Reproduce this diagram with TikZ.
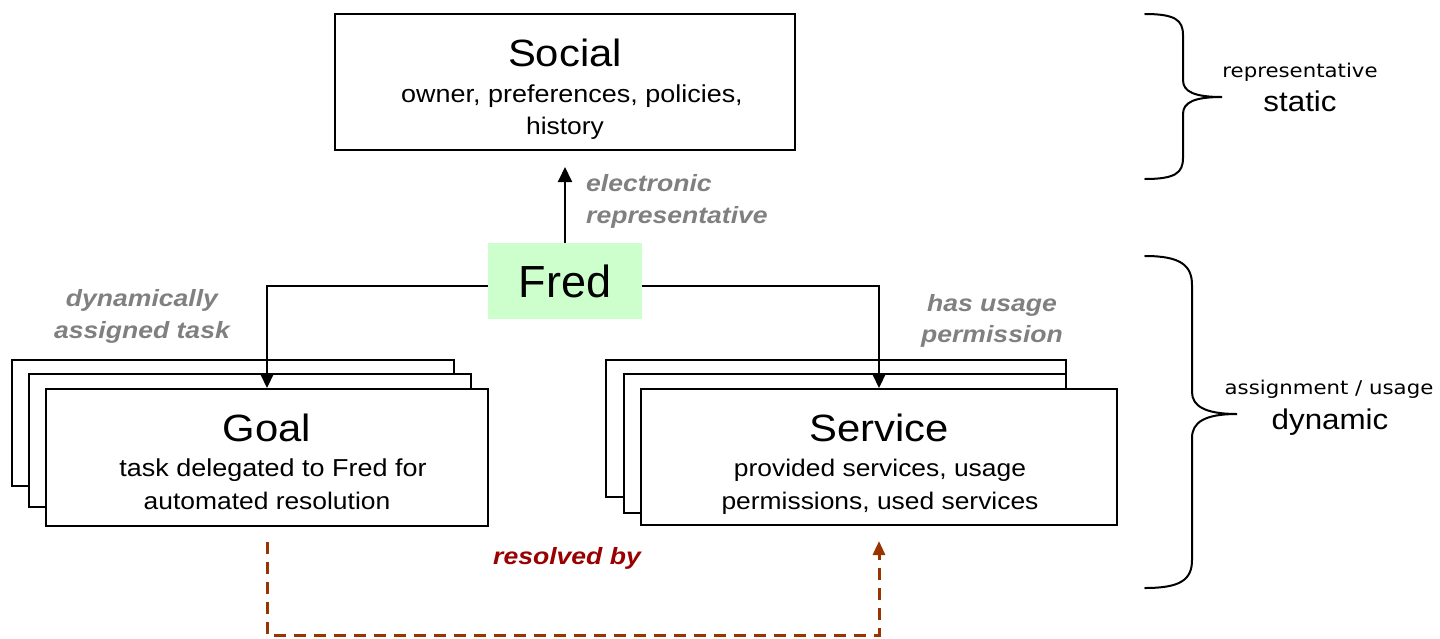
\documentclass[tikz,border=0pt]{standalone}
\usepackage{fontspec}
\setmainfont{Liberation Sans}
\newfontfamily\wide{Liberation Sans}[FakeStretch=1.1]
\newfontfamily\widelbl{Liberation Sans}[FakeStretch=1.13]
\newfontfamily\verd{DejaVu Sans}[FakeStretch=1.12]
\usetikzlibrary{arrows.meta}
\definecolor{fredgreen}{HTML}{CCFFCC}
\definecolor{labelgray}{HTML}{808080}
\definecolor{resolvecol}{HTML}{993300}
\definecolor{resolvetext}{HTML}{990000}
\tikzset{
  box/.style={draw=black, line width=2pt, fill=white, inner sep=0pt},
  title/.style={anchor=base, inner sep=0pt, font=\wide\fontsize{38}{40}\selectfont},
  sub/.style={anchor=base, inner sep=0pt, font=\wide\fontsize{24}{28}\selectfont},
  lbl/.style={anchor=base, inner sep=0pt, text=labelgray, font=\widelbl\fontsize{23.5}{26}\selectfont\bfseries\itshape},
  side/.style={anchor=base, inner sep=0pt, font=\verd\fontsize{19}{22}\selectfont},
  sidebig/.style={anchor=base, inner sep=0pt, font=\wide\fontsize{28.5}{32}\selectfont},
  link/.style={line width=2pt, -{Triangle[length=15pt,width=14pt]}},
  resolved/.style={draw=resolvecol, line width=3pt, dash pattern=on 12pt off 8pt,
    -{Triangle[length=14pt,width=12pt,fill=resolvecol]}},
  bracket/.style={line width=2pt, line cap=round},
}
\begin{document}
\begin{tikzpicture}[x=1pt, y=-1pt]
\useasboundingbox (0,0) rectangle (1440,638);

% ---- Social ----
\node[box, minimum width=460pt, minimum height=136pt] (social) at (565,82) {};
\node[title] (socialT) at (565,66) {Social};
\node[sub, font=\wide\fontsize{24.5}{28}\selectfont] (socialS1) at (572,102) {owner, preferences, policies,};
\node[sub] (socialS2) at (565,134) {history};

% ---- Fred ----
\node[fill=fredgreen, minimum width=154pt, minimum height=76pt, inner sep=0pt,
      font=\fontsize{45}{50}\selectfont] (fred) at (565,281) {Fred};

% ---- Goal stack ----
\node[box, minimum width=442pt, minimum height=126pt] (goal3) at (233,423) {};
\node[box, minimum width=442pt, minimum height=133pt] (goal2) at (250,440.5) {};
\node[box, minimum width=442pt, minimum height=137pt] (goal1) at (267,457.5) {};
\node[title] (goalT) at (267,441) {Goal};
\node[sub, font=\wide\fontsize{24.5}{28}\selectfont] (goalS1) at (273,476) {task delegated to Fred for};
\node[sub] (goalS2) at (267,509) {automated resolution};

% ---- Service stack ----
\node[box, minimum width=460pt, minimum height=137pt] (serv3) at (836,428.5) {};
\node[box, minimum width=442pt, minimum height=139pt] (serv2) at (845,443.5) {};
\node[box, minimum width=476pt, minimum height=136pt] (serv1) at (879,457) {};
\node[title] (servT) at (879,441) {Service};
\node[sub] (servS1) at (880,476) {provided services, usage};
\node[sub] (servS2) at (880,509) {permissions, used services};

% ---- connectors ----
\draw[link] (fred.north) -- ([yshift=-16pt]social.south);
\draw[link] ([yshift=-5pt]fred.west) -| (goal1.north);
\draw[link] ([yshift=-5pt]fred.east) -| (serv1.north);
\draw[resolved] ([yshift=-15pt]goal1.south) -- ++(0,93) -| ([yshift=-15pt]serv1.south);

% ---- connector labels ----
\node[lbl, anchor=base west] (elec1) at (586,191) {electronic};
\node[lbl, anchor=base west] (elec2) at (586,223) {representative};
\node[lbl] (dyn1) at (142,306) {dynamically};
\node[lbl] (dyn2) at (142,338) {assigned task};
\node[lbl] (has1) at (992,311) {has usage};
\node[lbl] (has2) at (992,342) {permission};
\node[lbl, text=resolvetext] (resby) at (567,564) {resolved by};

% ---- side brackets ----
\draw[bracket] (1145,14) .. controls (1175,14) and (1183,20) .. (1183,35)
  -- (1183,80) .. controls (1183,92) and (1195,97) .. (1222,97)
  .. controls (1195,97) and (1183,102) .. (1183,114)
  -- (1183,158) .. controls (1183,173) and (1175,179) .. (1145,179);
\draw[bracket] (1145,256) .. controls (1180,256) and (1192,265) .. (1192,285)
  -- (1192,392) .. controls (1192,406) and (1205,414) .. (1237,414)
  .. controls (1205,414) and (1192,422) .. (1192,438)
  -- (1192,560) .. controls (1192,580) and (1180,588) .. (1145,588);

\node[side] (repr) at (1300,77) {representative};
\node[sidebig] (static) at (1300,111) {static};
\node[side] (assign) at (1329,394) {assignment / usage};
\node[sidebig] (dynamic) at (1330,429) {dynamic};
\end{tikzpicture}
\end{document}
